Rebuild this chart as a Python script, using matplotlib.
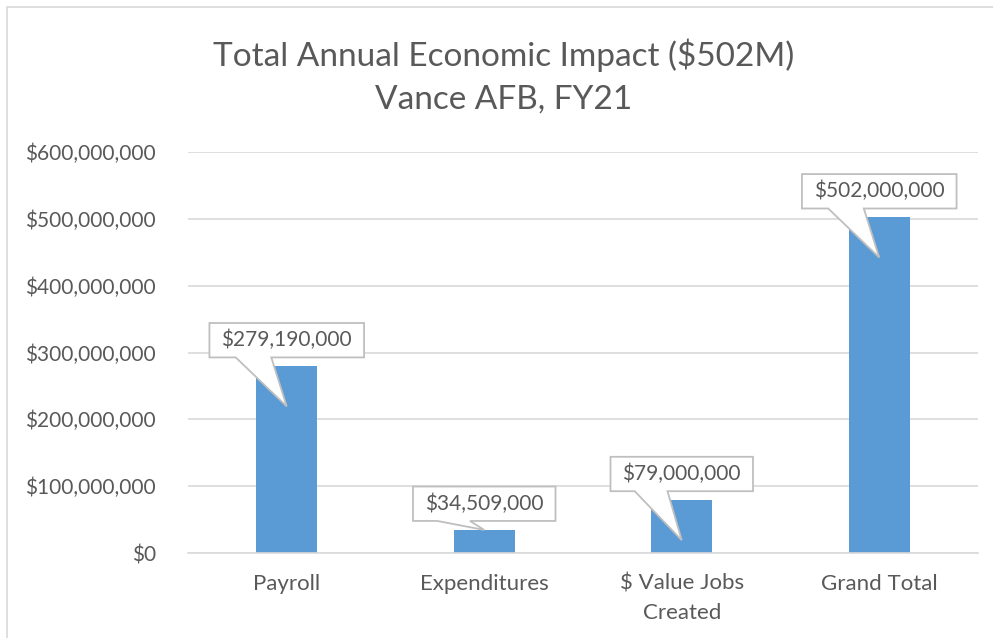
import matplotlib
matplotlib.use('Agg')
import matplotlib.pyplot as plt
from matplotlib.patches import Polygon, Rectangle
from matplotlib.ticker import FuncFormatter, MultipleLocator
from matplotlib.transforms import IdentityTransform

plt.rcParams['font.family'] = ['Lato', 'DejaVu Sans']

categories = ['Payroll', 'Expenditures', '$ Value Jobs\nCreated', 'Grand Total']
values = [279190000, 34509000, 79000000, 502000000]
title_lines = ['Total Annual Economic Impact ($502M)', 'Vance AFB, FY21']

text_col = '#595959'
bar_col = '#5b9bd5'
grid_col = '#d9d9d9'
box_col = '#bfbfbf'

W, H = 993, 638
fig = plt.figure(figsize=(W / 100, H / 100), dpi=100)

# chart border (cut off at right and bottom)
fig.patches.append(Rectangle((7 / W, -0.1), 2, 1 - 7 / H + 0.1, transform=fig.transFigure,
                             fill=False, ec=grid_col, lw=1.2))

ax = fig.add_axes([188 / W, (H - 553) / H, 790 / W, (553 - 152) / H])
x = list(range(len(categories)))
ax.bar(x, values, width=0.31, color=bar_col, zorder=2)
ax.set_xlim(-0.5, 3.5)
ax.set_ylim(0, 600000000)
ax.yaxis.set_major_locator(MultipleLocator(100000000))
ax.yaxis.set_major_formatter(FuncFormatter(lambda v, p: f'${v:,.0f}'))
ax.grid(axis='y', color=grid_col, lw=1.2, zorder=0)
for s in ['top', 'right', 'left']:
    ax.spines[s].set_visible(False)
ax.spines['bottom'].set_color(grid_col)
ax.spines['bottom'].set_linewidth(1.2)
ax.set_xticks(x)
ax.set_xticklabels(categories, fontsize=16, color=text_col, linespacing=1.55)
ax.tick_params(axis='x', length=0, pad=15)
ax.tick_params(axis='y', length=0, pad=23, labelsize=15, labelcolor=text_col)

fig.text(0.507, 1 - 55 / H, title_lines[0], ha='center', va='center', fontsize=24, color=text_col)
fig.text(0.507, 1 - 100 / H, title_lines[1], ha='center', va='center', fontsize=24, color=text_col)

# callout labels
gap, pad_x, pad_y, depth = 9, 12, 7, 40
texts = []
for i, v in enumerate(values):
    t = ax.annotate(f'${v:,.0f}', xy=(i, v), xytext=(0, (gap + pad_y) * 0.72),
                    textcoords='offset points', ha='center', va='bottom',
                    fontsize=15, color=text_col, zorder=5)
    texts.append(t)

fig.canvas.draw()
r = fig.canvas.get_renderer()
for i, v in enumerate(values):
    bb = texts[i].get_window_extent(r)
    cx, top = ax.transData.transform((i, v))
    _, base = ax.transData.transform((i, 0))
    L, R = bb.x0 - pad_x, bb.x1 + pad_x
    B, T = top + gap, bb.y1 + pad_y
    tip_y = top - depth if (top - base) > depth else top
    wl = L + 0.17 * (R - L)
    wr = L + 0.40 * (R - L)
    pts = [(L, B), (wl, B), (cx, tip_y), (wr, B), (R, B), (R, T), (L, T)]
    ax.add_patch(Polygon(pts, closed=True, transform=IdentityTransform(), fc='white',
                         ec=box_col, lw=1.3, joinstyle='miter', zorder=4, clip_on=False))

fig.savefig('out.png', dpi=100)
